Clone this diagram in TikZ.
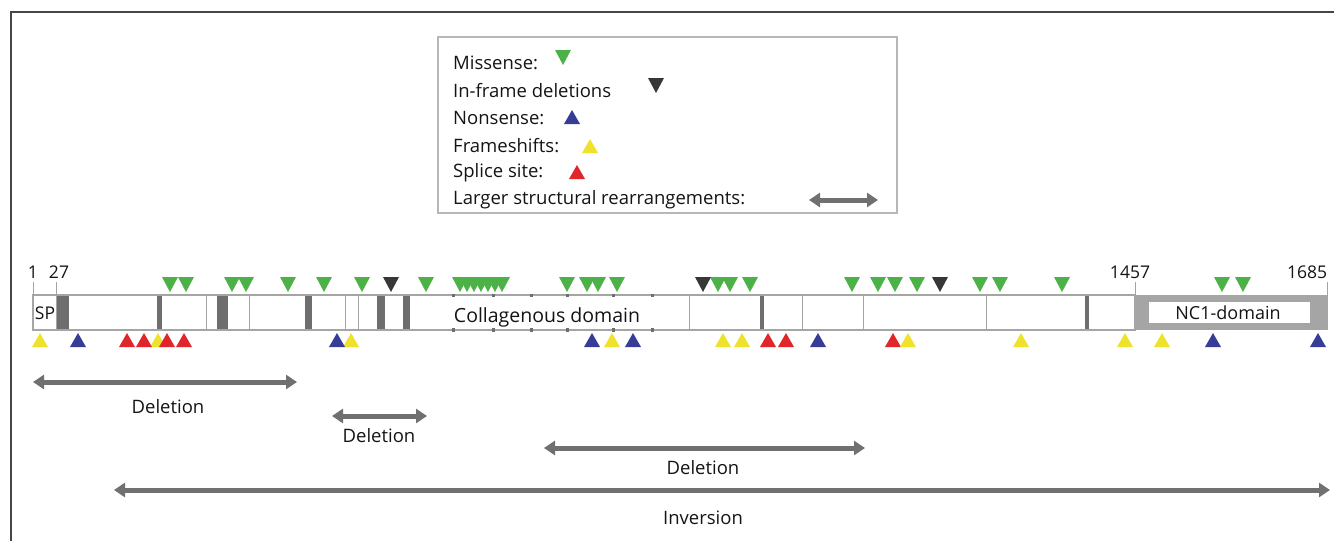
\documentclass[tikz,border=0pt]{standalone}
\usepackage{fontspec}
\setmainfont{Open Sans}
\usetikzlibrary{arrows.meta}
\definecolor{mgreen}{RGB}{76,178,72}
\definecolor{mblack}{RGB}{55,55,55}
\definecolor{mblue}{RGB}{55,60,150}
\definecolor{myellow}{RGB}{238,226,45}
\definecolor{mred}{RGB}{224,38,42}
\definecolor{agray}{RGB}{112,112,112}
\definecolor{bargray}{RGB}{165,165,165}
\definecolor{stripe}{RGB}{110,110,110}
\definecolor{framec}{RGB}{70,70,70}
\tikzset{
  txt/.style={inner sep=0pt, font=\fontsize{18.5}{21}\selectfont, text=black!92},
  numtxt/.style={inner sep=0pt, font=\fontsize{17.5}{20}\selectfont, text=black!92},
  bigtxt/.style={inner sep=0pt, font=\fontsize{19.5}{22}\selectfont, text=black!92},
  rearr/.style={draw=agray, line width=5pt, {Triangle[width=14pt,length=11pt]}-{Triangle[width=14pt,length=11pt]}},
  dtri/.pic={\path[pic actions] (-8,-8) -- (8,-8) -- (0,7) -- cycle;},
  utri/.pic={\path[pic actions] (-8,7) -- (8,7) -- (0,-7) -- cycle;},
  sep/.style={draw=bargray, line width=1pt},
}
\newcommand{\mdn}[2]{\pic[fill=#2] at (#1,285) {dtri};}
\newcommand{\mup}[2]{\pic[fill=#2] at (#1,340) {utri};}
\begin{document}
\begin{tikzpicture}[x=1pt,y=-1pt]
\useasboundingbox (0,0) rectangle (1334,541);
% frame
\draw[framec, line width=1.6pt] (11,541) -- (11,12) -- (1334,12);
% legend
\draw[bargray!80, line width=1.5pt] (438,37) rectangle (897,213);
\node[txt, anchor=west] (l1) at (453,63) {Missense:};
\node[txt, anchor=west] (l2) at (453,90.4) {In-frame deletions};
\node[txt, anchor=west] (l3) at (453,117.8) {Nonsense:};
\node[txt, anchor=west] (l4) at (453,145.2) {Frameshifts:};
\node[txt, anchor=west] (l5) at (453,172.6) {Splice site:};
\node[txt, anchor=west] (l6) at (453,200) {Larger structural rearrangements:};
\pic[fill=mgreen] at (563,58) {dtri};
\pic[fill=mblack] at (656,86) {dtri};
\pic[fill=mblue] at (572,117) {utri};
\pic[fill=myellow] at (590,146) {utri};
\pic[fill=mred] at (577,172) {utri};
\coordinate (la) at (809,200);
\coordinate (lb) at (878,200);
\draw[rearr] (la) -- (lb);
% bar
\fill[white] (33,295) rectangle (1135,330);
\foreach \a/\b in {57/69,157/162,217/228,305/312,377/385,403/410,760/764,1085/1089}
  {\fill[stripe] (\a,295) rectangle (\b,330);}
\foreach \x in {56,206,249,345,358,689,802,863,986}
  {\draw[sep] (\x,295) -- (\x,330);}
\draw[bargray, line width=1.2pt] (33,295) rectangle (1135,330);
\fill[bargray] (1135,295) rectangle (1328,330);
\fill[white] (1149,302) rectangle (1310,323);
\foreach \x in {453,493,531,567,613,652}
  {\fill[stripe] (\x-1.5,293.5) rectangle (\x+1.5,297);
   \fill[stripe] (\x-1.5,328) rectangle (\x+1.5,331.5);}
% ticks
\foreach \x in {33,56,1135,1327}
  {\draw[bargray, line width=1pt] (\x,282) -- (\x,295);}
\node[numtxt] (n1) at (33,272) {1};
\node[numtxt] (n27) at (59,272) {27};
\node[numtxt] (n1457) at (1130,272) {1457};
\node[numtxt] (n1685) at (1307,272) {1685};
\node[numtxt] (sp) at (45,313) {SP};
\node[bigtxt] (coll) at (547,317) {Collagenous domain};
\node[numtxt, font=\fontsize{18}{21}\selectfont] (nc1) at (1228,313) {NC1-domain};
% top mutations
\foreach \x in {170,186,232,246,288,324,362,426,460,467,474,481,488,495,502,567,587,598,617,718,730,750,852,878,895,917,980,1000,1062,1222,1243}
  {\mdn{\x}{mgreen}}
\foreach \x in {391,703,940}
  {\mdn{\x}{mblack}}
% bottom mutations
\foreach \x in {40,158,351,612,723,742,1021,1125,1162}
  {\mup{\x}{myellow}}
\foreach \x in {127,144,167,184,768,786,893}
  {\mup{\x}{mred}}
\mup{908}{myellow}
\foreach \x in {78,337,592,633,818,1213,1318}
  {\mup{\x}{mblue}}
% rearrangements
\coordinate (d1a) at (33,382);
\coordinate (d1b) at (297,382);
\draw[rearr] (d1a) -- (d1b);
\node[txt] (d1l) at (168,407) {Deletion};
\coordinate (d2a) at (332,416);
\coordinate (d2b) at (427,416);
\draw[rearr] (d2a) -- (d2b);
\node[txt] (d2l) at (379,436) {Deletion};
\coordinate (d3a) at (544,448);
\coordinate (d3b) at (865,448);
\draw[rearr] (d3a) -- (d3b);
\node[txt] (d3l) at (703,468) {Deletion};
\coordinate (ia) at (114,490);
\coordinate (ib) at (1330,490);
\draw[rearr] (ia) -- (ib);
\node[txt] (il) at (703,518) {Inversion};
\end{tikzpicture}
\end{document}
